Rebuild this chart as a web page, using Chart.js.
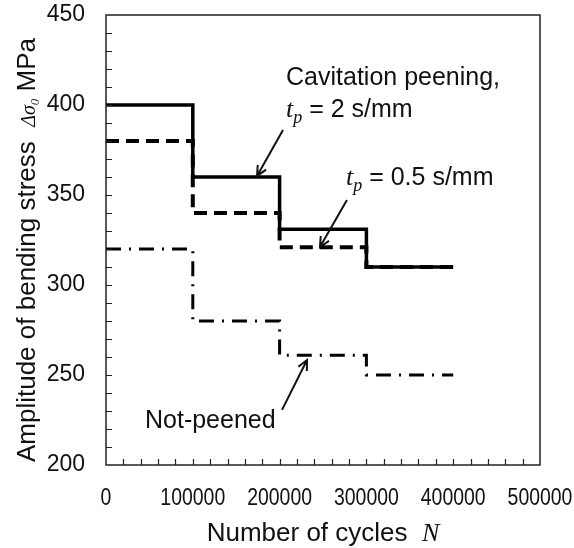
<!DOCTYPE html>
<html>
<head>
<meta charset="utf-8">
<script src="https://cdn.jsdelivr.net/npm/chart.js@4.4.1/dist/chart.umd.min.js"></script>
<style>
  html, body { margin: 0; padding: 0; background: #fff; }
  #wrap { width: 574px; height: 548px; }
</style>
</head>
<body>
<div id="wrap"><canvas id="chart" width="574" height="548"></canvas></div>
<script>
'use strict';

// Number of cycles where each stress block starts (last one closes the line)
let cycles = [0, 100000, 200000, 300000, 400000];

// Stress amplitude of each block, MPa
let peened2 = [400, 360, 331, 310, 310];
let peened05 = [380, 340, 321, 310, 310];
let notPeened = [320, 280, 261, 250, 250];

// Axis ticks
let xTicks = [0, 100000, 200000, 300000, 400000, 500000];
let yTicks = [200, 250, 300, 350, 400, 450];

const SANS = '"Liberation Sans", Arial, sans-serif';
const SERIF = '"Liberation Serif", "Times New Roman", serif';
const INK = '#111';

function toPoints(values) {
  return cycles.map((c, i) => ({ x: c, y: values[i] }));
}

// Draw a row of text pieces with different fonts, left aligned on a baseline
function drawRuns(ctx, runs, x, y) {
  runs.forEach(r => {
    ctx.font = r.font;
    ctx.fillText(r.text, x, y + (r.dy || 0));
    x += ctx.measureText(r.text).width;
  });
}

function runsWidth(ctx, runs) {
  let w = 0;
  runs.forEach(r => {
    ctx.font = r.font;
    w += ctx.measureText(r.text).width;
  });
  return w;
}

function tpRuns(rest) {
  return [
    { text: 't', font: 'italic 26px ' + SERIF },
    { text: 'p', font: 'italic 18px ' + SERIF, dy: 6 },
    { text: rest, font: '25px ' + SANS }
  ];
}

// Notes and arrows, placed in data units
let notes = [
  { x: 207400, y: 411, runs: [{ text: 'Cavitation peening,', font: '25px ' + SANS }] },
  { x: 207400, y: 393.5, runs: tpRuns(' = 2 s/mm') },
  { x: 276500, y: 355.6, runs: tpRuns(' = 0.5 s/mm') },
  { x: 44900, y: 220.6, runs: [{ text: 'Not-peened', font: '25px ' + SANS }] }
];

let arrows = [
  { from: [203900, 386.1], to: [174000, 360.6] },
  { from: [277600, 347.2], to: [246500, 321.1] },
  { from: [202800, 230.6], to: [231600, 258.3] }
];

const decorations = {
  id: 'decorations',
  afterDraw(chart) {
    const ctx = chart.ctx;
    const area = chart.chartArea;
    const xs = chart.scales.x;
    const ys = chart.scales.y;

    ctx.save();
    ctx.strokeStyle = '#222';
    ctx.lineWidth = 1.5;
    ctx.strokeRect(area.left, area.top, area.right - area.left, area.bottom - area.top);

    // inside minor ticks
    ctx.lineWidth = 1.2;
    ctx.beginPath();
    for (let v = 20000; v < 500000; v += 20000) {
      const px = Math.round(xs.getPixelForValue(v)) + 0.5;
      ctx.moveTo(px, area.bottom);
      ctx.lineTo(px, area.bottom - 6);
    }
    for (let v = 210; v < 450; v += 10) {
      const py = Math.round(ys.getPixelForValue(v)) + 0.5;
      ctx.moveTo(area.left, py);
      ctx.lineTo(area.left + 6, py);
    }
    ctx.stroke();

    // x tick labels, narrow like the original
    ctx.fillStyle = INK;
    ctx.font = '24px ' + SANS;
    ctx.textAlign = 'center';
    ctx.textBaseline = 'alphabetic';
    xs.ticks.forEach(t => {
      const px = xs.getPixelForValue(t.value);
      ctx.save();
      ctx.translate(px, 505);
      ctx.scale(0.81, 1);
      ctx.fillText(String(t.value), 0, 0);
      ctx.restore();
    });

    // arrows
    ctx.strokeStyle = '#111';
    ctx.lineWidth = 2;
    arrows.forEach(a => {
      const x1 = xs.getPixelForValue(a.from[0]);
      const y1 = ys.getPixelForValue(a.from[1]);
      const x2 = xs.getPixelForValue(a.to[0]);
      const y2 = ys.getPixelForValue(a.to[1]);
      const ang = Math.atan2(y2 - y1, x2 - x1);
      ctx.beginPath();
      ctx.moveTo(x1, y1);
      ctx.lineTo(x2, y2);
      ctx.moveTo(x2 - 11 * Math.cos(ang - 0.45), y2 - 11 * Math.sin(ang - 0.45));
      ctx.lineTo(x2, y2);
      ctx.lineTo(x2 - 11 * Math.cos(ang + 0.45), y2 - 11 * Math.sin(ang + 0.45));
      ctx.stroke();
    });

    // notes
    ctx.textAlign = 'left';
    notes.forEach(n => {
      drawRuns(ctx, n.runs, xs.getPixelForValue(n.x), ys.getPixelForValue(n.y));
    });

    // x axis title
    const xTitle = [
      { text: 'Number of cycles  ', font: '26px ' + SANS },
      { text: 'N', font: 'italic 26px ' + SERIF }
    ];
    const xw = runsWidth(ctx, xTitle);
    drawRuns(ctx, xTitle, 323 - xw / 2, 541);

    // y axis title
    const yTitle = [
      { text: 'Amplitude of bending stress  ', font: '26px ' + SANS },
      { text: '\u0394\u03c3', font: 'italic 20px ' + SERIF },
      { text: '0', font: 'italic 13px ' + SERIF, dy: 4 },
      { text: ' MPa', font: '26px ' + SANS }
    ];
    const yw = runsWidth(ctx, yTitle);
    ctx.translate(35, 250);
    ctx.rotate(-Math.PI / 2);
    drawRuns(ctx, yTitle, -yw / 2, 0);
    ctx.restore();
  }
};

const ctx = document.getElementById('chart').getContext('2d');

const chart = new Chart(ctx, {
  type: 'scatter',
  data: {
    datasets: [{
      label: 'tp = 2 s/mm',
      data: toPoints(peened2),
      showLine: true,
      stepped: 'before',
      borderColor: '#000',
      borderWidth: 3.5,
      pointRadius: 0
    },
    {
      label: 'tp = 0.5 s/mm',
      data: toPoints(peened05),
      showLine: true,
      stepped: 'before',
      borderColor: '#000',
      borderWidth: 4,
      borderDash: [13, 7],
      pointRadius: 0
    },
    {
      label: 'Not-peened',
      data: toPoints(notPeened),
      showLine: true,
      stepped: 'before',
      borderColor: '#000',
      borderWidth: 3,
      borderDash: [15, 8, 2, 8],
      pointRadius: 0
    }]
  },
  options: {
    responsive: false,
    animation: false,
    layout: { padding: { top: 15, right: 34, left: 0, bottom: 0 } },
    plugins: {
      legend: { display: false },
      tooltip: { enabled: false }
    },
    scales: {
      x: {
        type: 'linear',
        min: 0,
        max: 500000,
        afterBuildTicks: scale => { scale.ticks = xTicks.map(v => ({ value: v })); },
        afterFit: scale => {
          scale.height = 83;
          scale.paddingLeft = 0;
          scale.paddingRight = 0;
        },
        grid: { display: false, drawTicks: false },
        border: { display: false },
        ticks: { display: false }
      },
      y: {
        min: 200,
        max: 450,
        afterBuildTicks: scale => { scale.ticks = yTicks.map(v => ({ value: v })); },
        afterFit: scale => {
          scale.width = 106;
          scale.paddingTop = 0;
          scale.paddingBottom = 0;
        },
        grid: { display: false, drawTicks: false },
        border: { display: false },
        ticks: {
          padding: 21,
          color: INK,
          font: { family: SANS, size: 23 },
          callback: v => String(v)
        }
      }
    }
  },
  plugins: [decorations]
});
</script>
</body>
</html>
